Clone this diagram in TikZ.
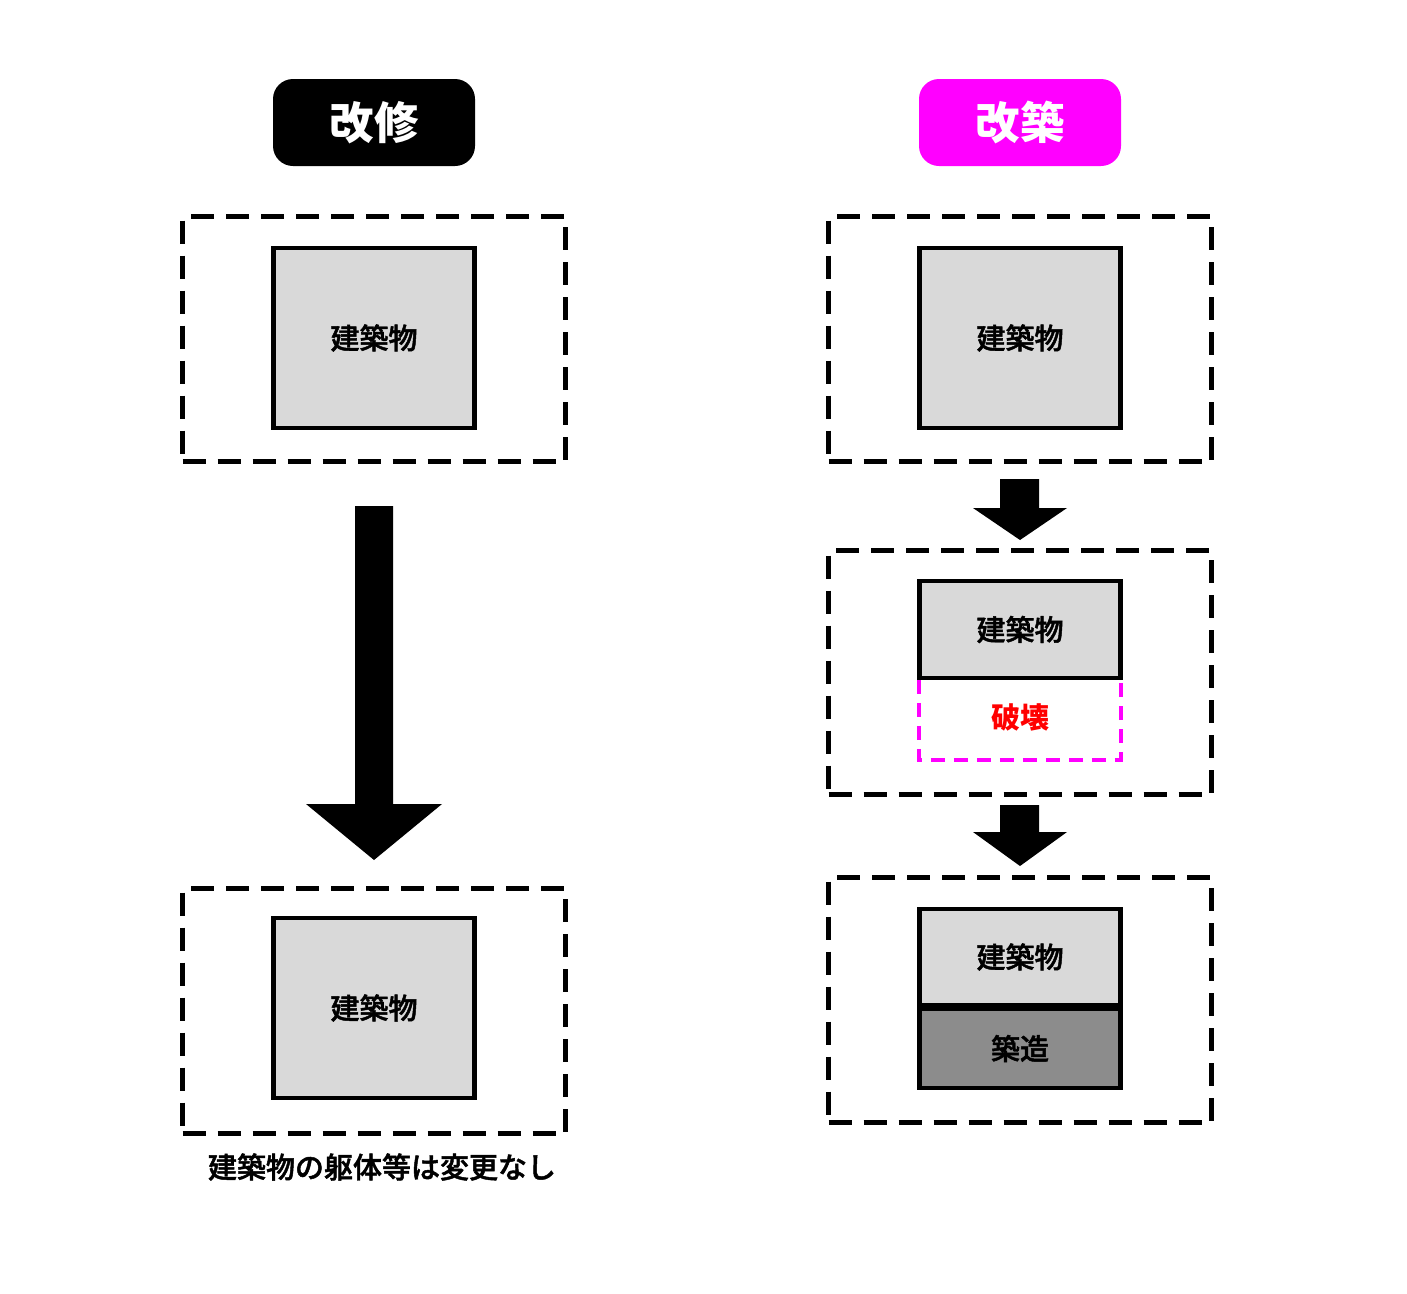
\documentclass[tikz,border=0pt]{standalone}
\usepackage{fontspec}
\newfontfamily\cjk{Noto Sans CJK JP}
\newfontfamily\cjkm[FakeBold=1.6]{Noto Sans CJK JP Medium}
\definecolor{lightg}{HTML}{D9D9D9}
\definecolor{darkg}{HTML}{8C8C8C}
\definecolor{mag}{HTML}{FF00FF}
\begin{document}
\begin{tikzpicture}[x=1pt,y=-1pt,
  dbox/.style={draw, line width=5pt, dash pattern=on 23pt off 12pt, minimum width=383pt, minimum height=245pt, inner sep=0pt},
  bld/.style={draw, line width=4.3pt, fill=lightg, minimum width=201pt, inner sep=0pt, font=\cjkm\fontsize{29}{29}\selectfont},
  title/.style={rounded corners=20pt, minimum width=202pt, minimum height=87pt, inner sep=0pt, text=white, font=\cjk\bfseries\fontsize{44.5}{44.5}\selectfont},
  blockarrow/.style={fill=black},
  lbl/.style={inner sep=0pt, font=\cjkm\fontsize{29}{29}\selectfont}]
\useasboundingbox (0,0) rectangle (1407,1293);
% titles
\node[title, fill=black] (t1) at (374,122.5) {改修};
\node[title, fill=mag] (t2) at (1020,122.5) {改築};
% left column
\node[dbox] (L1) at (374,339) {};
\node[bld, minimum height=180pt] (Lb1) at (374,338) {建築物};
\node[dbox] (L2) at (374,1011) {};
\node[bld, minimum height=180pt] (Lb2) at (374,1008) {建築物};
\node[lbl] (cap) at (382,1167) {建築物の躯体等は変更なし};
\fill[blockarrow] (355,506) -- (393,506) -- (393,804) -- (442,804) -- (374,860) -- (306,804) -- (355,804) -- cycle;
% right column
\node[dbox] (R1) at (1020,339) {};
\node[bld, minimum height=180pt] (Rb1) at (1020,338) {建築物};
\node[dbox, minimum height=244pt] (R2) at (1020,672.5) {};
\node[bld, minimum height=97pt] (Rb2) at (1020,629.5) {建築物};
\node[inner sep=0pt, minimum width=201pt, minimum height=80pt] (Rd) at (1020,720) {};
\draw[mag, line width=3.8pt, dash pattern=on 14pt off 9pt] (Rd.north west) -- (Rd.south west) -- (Rd.south east) -- (Rd.north east);
\node[lbl, text=red, font=\cjk\bfseries\fontsize{29}{29}\selectfont] (Rdt) at (1020,717) {破壊};
\node[dbox] (R3) at (1020,1000) {};
\node[bld, minimum height=96pt] (Rb3) at (1020,957) {建築物};
\node[bld, fill=darkg, minimum height=79pt] (Rc3) at (1020,1048.5) {築造};
\fill[blockarrow] (1000,479) -- (1039,479) -- (1039,508) -- (1067,508) -- (1020,540) -- (973,508) -- (1000,508) -- cycle;
\fill[blockarrow] (1000,805) -- (1039,805) -- (1039,832) -- (1067,832) -- (1020,866) -- (973,832) -- (1000,832) -- cycle;
\end{tikzpicture}
\end{document}
